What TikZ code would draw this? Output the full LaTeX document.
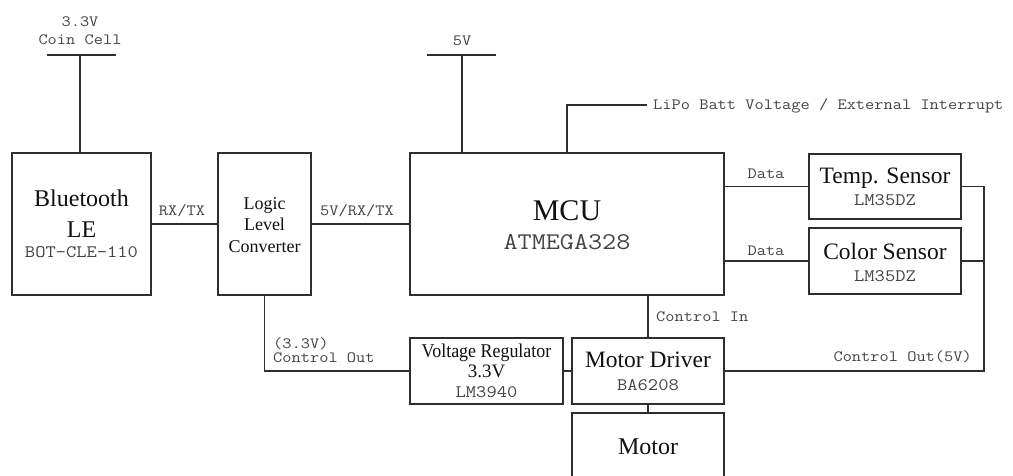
\documentclass[tikz,border=0pt]{standalone}
\usepackage{graphicx}
\usepackage{fontspec}
\setmainfont{Liberation Serif}
\definecolor{linec}{HTML}{2E2E2E}
\definecolor{monoc}{HTML}{444444}
\definecolor{serc}{HTML}{111111}
\newcommand\cwide[1]{\scalebox{1.14}[1]{#1}}
\begin{document}
\begin{tikzpicture}[x=1pt,y=-1pt,
  wire/.style={draw=linec, line width=1.5pt},
  blk/.style={draw=linec, line width=1.6pt, rectangle, inner sep=0pt},
  lbl/.style={anchor=base, inner sep=0pt, text=monoc, font=\ttfamily\fontsize{15.7}{18}\selectfont},
  partno/.style={anchor=base, inner sep=0pt, text=monoc, font=\ttfamily\fontsize{17.5}{20}\selectfont},
  big/.style={anchor=base, inner sep=0pt, text=serc, font=\fontsize{23.5}{28}\selectfont},
  mid/.style={anchor=base, inner sep=0pt, text=serc, font=\fontsize{18}{21}\selectfont}]
\useasboundingbox (0,0) rectangle (1013,476);
\fill[white] (0,0) rectangle (1013,476);

% boxes
\node[blk, minimum width=139pt, minimum height=142pt] (bt) at (81.5,224) {};
\node[blk, minimum width=93pt, minimum height=142pt] (llc) at (264.5,224) {};
\node[blk, minimum width=314pt, minimum height=142pt] (mcu) at (567,224) {};
\node[blk, minimum width=152pt, minimum height=65pt] (temp) at (885,186.5) {};
\node[blk, minimum width=152pt, minimum height=66pt] (color) at (885,261) {};
\node[blk, minimum width=153pt, minimum height=66pt] (vr) at (486.5,371) {};
\node[blk, minimum width=152pt, minimum height=66pt] (md) at (648,371) {};
\node[blk, minimum width=152pt, minimum height=87pt] (motor) at (648,456.5) {};

% box texts
\node[big, font=\fontsize{24}{28}\selectfont] (btt1) at (81.5,207) {Bluetooth};
\node[big, font=\fontsize{24}{28}\selectfont] (btt2) at (81.5,237) {LE};
\node[partno] (btt3) at (81.5,258) {\cwide{BOT-CLE-110}};
\node[mid] (llct1) at (264.5,210) {Logic};
\node[mid] (llct2) at (264.5,231) {Level};
\node[mid] (llct3) at (264.5,252) {Converter};
\node[big, font=\fontsize{30}{34}\selectfont] (mcut1) at (567,221) {MCU};
\node[partno, font=\ttfamily\fontsize{24}{27}\selectfont] (mcut2) at (567,250) {\cwide{ATMEGA328}};
\node[big] (tempt1) at (885,184) {Temp. Sensor};
\node[partno] (tempt2) at (885,206) {\cwide{LM35DZ}};
\node[big] (colt1) at (885,259) {Color Sensor};
\node[partno] (colt2) at (885,281) {\cwide{LM35DZ}};
\node[mid, font=\fontsize{19.5}{22}\selectfont] (vrt1) at (486.5,357) {\scalebox{0.92}[1]{Voltage Regulator}};
\node[mid, font=\fontsize{19}{22}\selectfont] (vrt2) at (486.5,377) {3.3V};
\node[partno] (vrt3) at (486.5,397) {\cwide{LM3940}};
\node[big] (mdt1) at (648,367) {Motor Driver};
\node[partno] (mdt2) at (648,390) {\cwide{BA6208}};
\node[big, font=\fontsize{24}{28}\selectfont] (mott) at (648,454) {Motor};

% supply rails
\coordinate (ccl) at (47,55);
\coordinate (ccr) at (116,55);
\coordinate (cc) at (80,55);
\draw[wire] (ccl) -- (ccr);
\draw[wire] (cc) -- (cc |- bt.north);
\node[lbl] (cct1) at (80,27) {\cwide{3.3V}};
\node[lbl] (cct2) at (80,45) {\cwide{Coin Cell}};

\coordinate (vfl) at (427,55);
\coordinate (vfr) at (496,55);
\coordinate (vf) at (462,55);
\draw[wire] (vfl) -- (vfr);
\draw[wire] (vf) -- (vf |- mcu.north);
\node[lbl] (vft) at (462,46) {\cwide{5V}};

% LiPo
\coordinate (lpc) at (567,105);
\coordinate (lpe) at (647,105);
\draw[wire] (lpc |- mcu.north) -- (lpc) -- (lpe);
\node[lbl, anchor=base west] (lpt) at (653,110) {\cwide{LiPo Batt Voltage / External Interrupt}};

% serial
\draw[wire] (bt.east) -- (llc.west);
\node[lbl] (rxt) at (182,215) {\cwide{RX/TX}};
\draw[wire] (llc.east) -- (mcu.west);
\node[lbl] (rx5t) at (357,215) {\cwide{5V/RX/TX}};

% sensors
\draw[wire] (mcu.east |- temp.west) -- (temp.west);
\draw[wire] (mcu.east |- color.west) -- (color.west);
\node[lbl] (d1) at (766,179) {\cwide{Data}};
\node[lbl] (d2) at (766,255) {\cwide{Data}};

\coordinate (bus) at (984,186.5);
\draw[wire] (temp.east) -- (bus) -- (bus |- md.east) -- (md.east);
\draw[wire] (color.east) -- (bus |- color.east);
\node[lbl, anchor=base east] (co5) at (972,361) {\cwide{Control Out(5V)}};

% control in
\draw[wire] (md.north |- mcu.south) -- (md.north);
\node[lbl, anchor=base west] (cin) at (656,321) {\cwide{Control In}};

% motor
\draw[wire] (md.south) -- (motor.north);
\draw[wire] (vr.east) -- (md.west);

% control out 3.3V
\draw[wire] (llc.south) -- (llc.south |- vr.west) -- (vr.west);
\node[lbl, anchor=base west] (co3a) at (273,348) {\cwide{(3.3V)}};
\node[lbl, anchor=base west] (co3b) at (273,362) {\cwide{Control Out}};
\end{tikzpicture}
\end{document}
